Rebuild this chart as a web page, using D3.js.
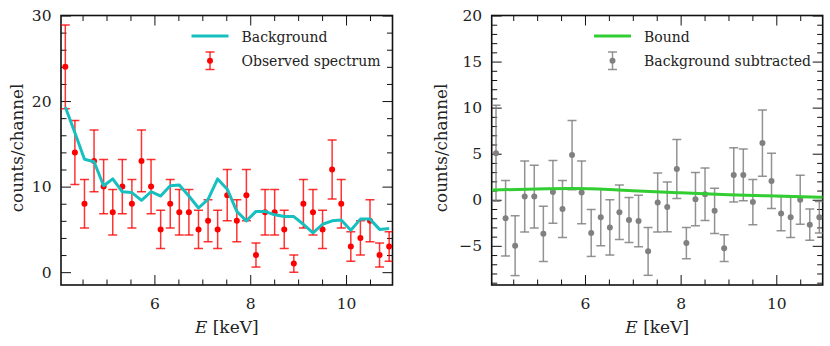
<!DOCTYPE html>
<html>
<head>
<meta charset="utf-8">
<script src="https://cdn.jsdelivr.net/npm/d3@7"></script>
<style>
body { margin: 0; background: #fff; }
</style>
</head>
<body>
<svg id="chart"></svg>
<script>
var w = 830;
var h = 346;
var serif = "'DejaVu Serif', serif";

// channel energies (keV)
var energy = [4.14, 4.34, 4.54, 4.74, 4.94, 5.13, 5.33, 5.53, 5.73, 5.93,
              6.13, 6.33, 6.52, 6.72, 6.92, 7.12, 7.32, 7.52, 7.72, 7.92,
              8.12, 8.31, 8.51, 8.71, 8.91, 9.11, 9.31, 9.51, 9.71, 9.90,
              10.10, 10.30, 10.50, 10.70, 10.90];

// left panel: observed spectrum and background model
var observed = [24, 14, 8, 13, 10, 7, 10, 8, 13, 10,
                5, 8, 7, 7, 5, 6, 5, 9, 6, 9,
                2, 7, 7, 5, 1, 8, 7, 5, 12, 8,
                3, 4, 6, 2, 3];
var observedErr = [4.9, 3.74, 2.83, 3.61, 3.16, 2.65, 3.16, 2.83, 3.61, 3.16,
                   2.24, 2.83, 2.65, 2.65, 2.24, 2.45, 2.24, 3.0, 2.45, 3.0,
                   1.41, 2.65, 2.65, 2.24, 1.0, 2.83, 2.65, 2.24, 3.46, 2.83,
                   1.73, 2.0, 2.45, 1.41, 1.73];
var background = [19.3, 16.3, 13.2, 12.9, 10.1, 10.9, 9.4, 9.3, 8.4, 9.4,
                  8.9, 10.1, 10.2, 8.9, 7.5, 8.5, 10.9, 9.7, 7.1, 6.0,
                  7.1, 7.1, 6.7, 6.5, 6.5, 5.6, 4.6, 5.6, 6.0, 6.1,
                  4.9, 6.2, 6.2, 5.0, 5.1];

// right panel: background subtracted and bound
var subtracted = [5.05, -2.0, -4.98, 0.35, 0.35, -3.7, 0.85, -1.0, 4.85, 0.8,
                  -3.6, -1.9, -3.0, -1.35, -2.2, -2.3, -5.6, -0.3, -0.78, 3.35,
                  -4.7, 0.07, 0.6, -1.2, -5.25, 2.7, 2.7, -0.25, 6.15, 2.05,
                  -1.5, -1.9, 0.0, -2.7, -1.9];
var subtractedErr = [5.2, 4.1, 3.25, 3.85, 3.4, 3.0, 3.4, 3.1, 3.75, 3.4,
                     2.55, 3.1, 3.0, 2.95, 2.45, 2.8, 2.6, 3.2, 2.7, 3.2,
                     1.7, 2.9, 2.85, 2.45, 1.45, 2.95, 2.8, 2.45, 3.6, 3.0,
                     1.85, 2.2, 2.65, 1.7, 1.7];
var boundE = [4.05, 5.0, 5.75, 6.5, 7.0, 8.0, 9.0, 10.0, 10.97];
var bound = [1.05, 1.18, 1.22, 1.12, 0.98, 0.75, 0.55, 0.4, 0.28];

var leftTicksY = [0, 10, 20, 30];
var rightTicksY = [-5, 0, 5, 10, 15, 20];
var ticksX = [6, 8, 10];

var svg = d3.select("#chart").attr("width", w).attr("height", h)
    .attr("font-family", serif);
svg.append("rect").attr("width", w).attr("height", h).attr("fill", "#fff");

function drawPanel(o) {
    var x = d3.scaleLinear().domain([4.05, 10.97]).range([o.x0, o.x1]);
    var y = d3.scaleLinear().domain(o.ydom).range([285, 15.5]);
    var g = svg.append("g");

    var clipId = "clip" + o.id;
    svg.append("clipPath").attr("id", clipId)
        .append("rect")
        .attr("x", o.x0).attr("y", 15.5)
        .attr("width", o.x1 - o.x0).attr("height", 285 - 15.5);

    // ticks, all inward, on all four sides
    var minorX = d3.range(4.5, 11, 0.5).filter(function(d){ return ticksX.indexOf(d) < 0; });
    var minorY = d3.range(Math.ceil(o.ydom[0] / o.minor) * o.minor, o.ydom[1] + 0.01, o.minor)
        .filter(function(d){ return o.ticksY.indexOf(Math.round(d * 100) / 100) < 0; });

    function addAxis(axis, tr) {
        var a = g.append("g").attr("transform", tr).call(axis);
        a.attr("font-family", serif).attr("font-size", 15.5);
        a.select(".domain").remove();
        a.selectAll("line").attr("stroke", "#111").attr("stroke-width", 1);
        a.selectAll("text").attr("fill", "#222");
        return a;
    }
    addAxis(d3.axisBottom(x).tickValues(ticksX).tickSize(-10).tickPadding(12.5)
        .tickFormat(d3.format("d")), "translate(0,285)");
    addAxis(d3.axisBottom(x).tickValues(minorX).tickSize(-5.5).tickFormat(""), "translate(0,285)");
    addAxis(d3.axisTop(x).tickValues(ticksX).tickSize(-10).tickFormat(""), "translate(0,15.5)");
    addAxis(d3.axisTop(x).tickValues(minorX).tickSize(-5.5).tickFormat(""), "translate(0,15.5)");

    addAxis(d3.axisLeft(y).tickValues(o.ticksY).tickSize(-10).tickPadding(9.5)
        .tickFormat(function(d){ return d < 0 ? "\u2212" + Math.abs(d) : d; }), "translate(" + o.x0 + ",0)");
    addAxis(d3.axisLeft(y).tickValues(minorY).tickSize(-5.5).tickFormat(""), "translate(" + o.x0 + ",0)");
    addAxis(d3.axisRight(y).tickValues(o.ticksY).tickSize(-10).tickFormat(""), "translate(" + o.x1 + ",0)");
    addAxis(d3.axisRight(y).tickValues(minorY).tickSize(-5.5).tickFormat(""), "translate(" + o.x1 + ",0)");

    // frame
    g.append("rect")
        .attr("x", o.x0).attr("y", 15.5)
        .attr("width", o.x1 - o.x0).attr("height", 285 - 15.5)
        .attr("fill", "none").attr("stroke", "#111").attr("stroke-width", 1.6);

    // error bars
    var pts = g.append("g").attr("clip-path", "url(#" + clipId + ")");
    var data = energy.map(function(e, i){ return {e: e, v: o.values[i], err: o.errs[i]}; });
    var bars = pts.selectAll(".eb").data(data).enter().append("g")
        .attr("stroke", o.barColor).attr("stroke-width", 1.5);
    bars.append("line")
        .attr("x1", function(d){ return x(d.e); }).attr("x2", function(d){ return x(d.e); })
        .attr("y1", function(d){ return y(d.v - d.err); }).attr("y2", function(d){ return y(d.v + d.err); });
    bars.append("line")
        .attr("x1", function(d){ return x(d.e) - 4.5; }).attr("x2", function(d){ return x(d.e) + 4.5; })
        .attr("y1", function(d){ return y(d.v + d.err); }).attr("y2", function(d){ return y(d.v + d.err); });
    bars.append("line")
        .attr("x1", function(d){ return x(d.e) - 4.5; }).attr("x2", function(d){ return x(d.e) + 4.5; })
        .attr("y1", function(d){ return y(d.v - d.err); }).attr("y2", function(d){ return y(d.v - d.err); });
    pts.selectAll(".dot").data(data).enter().append("circle")
        .attr("cx", function(d){ return x(d.e); })
        .attr("cy", function(d){ return y(d.v); })
        .attr("r", 3)
        .attr("fill", o.dotColor);

    // model line
    var line = d3.line()
        .x(function(d){ return x(d[0]); })
        .y(function(d){ return y(d[1]); });
    if (o.curve) line.curve(o.curve);
    pts.append("path")
        .datum(o.lineE.map(function(e, i){ return [e, o.lineV[i]]; }))
        .attr("d", line)
        .attr("fill", "none")
        .attr("stroke", o.lineColor)
        .attr("stroke-width", 3)
        .attr("stroke-linejoin", "round");

    // axis labels
    var xl = g.append("text").attr("font-size", 17).attr("fill", "#222")
        .attr("x", (o.x0 + o.x1) / 2).attr("y", 333).attr("text-anchor", "middle");
    xl.append("tspan").attr("font-style", "italic").text("E");
    xl.append("tspan").text(" [keV]");
    g.append("text").attr("font-size", 16.7).attr("fill", "#222")
        .attr("transform", "translate(" + o.ylabX + ",148) rotate(-90)")
        .attr("text-anchor", "middle")
        .text("counts/channel");

    // legend
    var lg = g.append("g");
    lg.append("line")
        .attr("x1", o.legX).attr("x2", o.legX + 37)
        .attr("y1", 36).attr("y2", 36)
        .attr("stroke", o.lineColor).attr("stroke-width", 3);
    lg.append("text").attr("font-size", 14).attr("fill", "#222")
        .attr("x", o.legX + 50).attr("y", 42).text(o.lineName);
    var mx = o.legX + 18.5;
    var lb = lg.append("g").attr("stroke", o.barColor).attr("stroke-width", 1.5);
    lb.append("line").attr("x1", mx).attr("x2", mx).attr("y1", 52).attr("y2", 69.5);
    lb.append("line").attr("x1", mx - 4.5).attr("x2", mx + 4.5).attr("y1", 52).attr("y2", 52);
    lb.append("line").attr("x1", mx - 4.5).attr("x2", mx + 4.5).attr("y1", 69.5).attr("y2", 69.5);
    lg.append("circle").attr("cx", mx).attr("cy", 60.7).attr("r", 3).attr("fill", o.dotColor);
    lg.append("text").attr("font-size", 14).attr("fill", "#222")
        .attr("x", o.legX + 50).attr("y", 66).text(o.dotName);
}

drawPanel({
    id: "L", x0: 61, x1: 392.5, ydom: [-1.5, 30], ticksY: leftTicksY, minor: 2,
    values: observed, errs: observedErr,
    barColor: "rgba(255,0,0,0.8)", dotColor: "#ff0000",
    lineE: energy, lineV: background, lineColor: "#17bfbf",
    ylabX: 23, legX: 191.5, lineName: "Background", dotName: "Observed spectrum"
});

drawPanel({
    id: "R", x0: 491.7, x1: 822.7, ydom: [-9.25, 20], ticksY: rightTicksY, minor: 1,
    values: subtracted, errs: subtractedErr,
    barColor: "rgba(128,128,128,0.85)", dotColor: "#808080",
    lineE: boundE, lineV: bound, lineColor: "#32cd32", curve: d3.curveMonotoneX,
    ylabX: 446.5, legX: 594, lineName: "Bound", dotName: "Background subtracted"
});
</script>
</body>
</html>
